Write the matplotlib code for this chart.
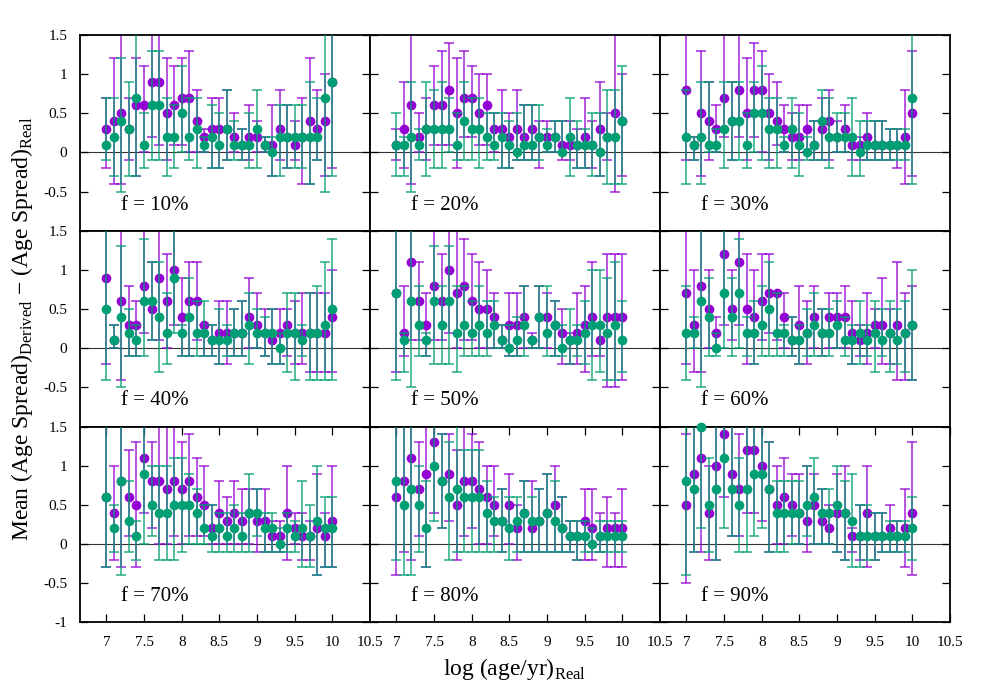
import numpy as np
import matplotlib.pyplot as plt

plt.rcParams['font.family'] = ['Liberation Serif', 'DejaVu Serif']
plt.rcParams['mathtext.fontset'] = 'custom'
plt.rcParams['mathtext.rm'] = 'Liberation Serif'
plt.rcParams['axes.unicode_minus'] = False

# x positions: log(age/yr) of the real populations
log_age = [7.0, 7.1, 7.2, 7.3, 7.4, 7.5, 7.6, 7.7, 7.8, 7.9, 8.0,
           8.1, 8.2, 8.3, 8.4, 8.5, 8.6, 8.7, 8.8, 8.9, 9.0,
           9.1, 9.2, 9.3, 9.4, 9.5, 9.6, 9.7, 9.8, 9.9, 10.0]

fractions = ['10%', '20%', '30%', '40%', '50%', '60%', '70%', '80%', '90%']
x_ticks = [7, 7.5, 8, 8.5, 9, 9.5, 10, 10.5]
x_ticklabels = ['7', '7.5', '8', '8.5', '9', '9.5', '10', '10.5']
y_ticks = [-1, -0.5, 0, 0.5, 1, 1.5]
y_ticklabels = ['-1', '-0.5', '0', '0.5', '1', '1.5']

# ---- f = 10% ----
purple_10 = [.3, .4, .5, .3, .6, .6, .9, .9, .5, .6, .7, .7, .4, .2, .3, .3, .3, .2, .1, .2, .2, .1, .1, .3, .2, .1, .2, .4, .3, .4, .9]
purple_lo_10 = [-.2, -.4, -.4, -.1, -.3, 0, .2, .1, -.1, .1, .1, 0, 0, 0, -.2, -.2, -.1, 0, -.1, -.1, 0, 0, -.3, -.1, -.2, -.1, -.4, -.4, -.1, -.3, -.2]
purple_hi_10 = [.7, 1.2, 1.6, .7, 1.2, 1.1, 1.6, 1.6, 1.2, 1.1, 1.2, 1.3, .8, .3, .7, .7, .8, .5, .3, .6, .4, .2, .6, .8, .6, .4, .7, 1.2, .8, 1.0, 1.6]
green_10 = [.1, .2, .4, .3, .7, .1, .6, .6, .2, .2, .5, .2, .3, .1, .2, .1, .3, .1, .1, .1, .3, .1, 0, .2, .2, .2, .2, .2, .2, .7, .9]
green_lo_10 = [-.1, -.3, -.5, -.3, -.3, -.2, -.1, -.1, -.3, -.2, 0, -.1, -.2, 0, -.2, -.2, -.1, -.1, -.1, -.2, -.2, 0, -.3, -.3, -.2, -.2, -.2, -.4, -.1, -.5, -.3]
green_hi_10 = [.7, .7, 1.2, .9, 1.6, .5, 1.3, 1.3, .7, .6, 1.1, .7, .7, .2, .6, .5, .8, .4, .3, .5, .8, .2, .2, .6, .6, .6, .6, .9, .7, 1.6, 1.6]

# ---- f = 20% ----
purple_20 = [.1, .3, .6, .2, .3, .6, .6, .8, .5, .7, .7, .5, .6, .3, .3, .2, .3, .2, .3, .2, .2, .2, .1, .1, .1, .2, .1, .3, .2, .5, .4]
purple_lo_20 = [-.1, -.2, -.4, 0, -.1, .1, .1, .1, -.2, .2, .2, .1, .1, 0, -.2, -.2, -.1, -.1, -.1, -.2, 0, 0, -.1, -.1, -.2, -.2, -.2, -.3, -.1, -.5, -.3]
purple_hi_20 = [.3, .9, 1.6, .5, .7, 1.1, 1.3, 1.4, 1.2, 1.3, 1.1, 1.0, 1.0, .5, .8, .5, .8, .6, .6, .4, .4, .4, .4, .4, .3, .7, .4, .9, .5, 1.6, 1.0]
green_20 = [.1, .1, .2, .1, .3, .3, .3, .3, .1, .4, .3, .3, .2, .1, .2, .1, 0, .1, .1, .2, .1, .2, 0, .2, .1, .1, .1, 0, .2, .2, .4]
green_lo_20 = [-.3, -.3, -.5, -.1, -.3, -.2, -.2, 0, -.1, -.1, -.1, -.2, -.1, -.1, -.2, -.2, -.1, -.1, -.1, -.1, 0, 0, 0, -.3, -.2, -.2, -.3, -.3, -.4, -.4, -.4]
green_hi_20 = [.5, .2, .9, .3, .9, .8, .9, .7, .5, .9, .7, .7, .5, .5, .5, .4, .5, .6, .6, .6, .3, .4, .4, .7, .4, .3, .5, .5, .8, .8, 1.1]

# ---- f = 30% ----
purple_30 = [.8, .1, .5, .4, .3, .7, .4, .8, .5, .8, .8, .5, .4, .3, .2, .2, .3, .1, .3, .4, .2, .3, .1, .1, .2, .1, .1, .1, .1, .2, .5]
purple_lo_30 = [-.1, -.1, -.3, -.1, 0, .2, -.1, .2, -.1, .2, 0, -.1, .1, 0, -.1, -.1, 0, -.1, -.1, -.1, 0, 0, -.1, -.1, -.1, -.1, -.1, -.1, -.2, -.4, -.3]
purple_hi_30 = [1.6, .2, 1.3, .9, .6, 1.6, .9, 1.6, 1.2, 1.4, 1.3, 1.0, .9, .6, .5, .6, .6, .4, .7, .8, .4, .6, .2, .2, .5, .4, .4, .3, .3, .8, 1.3]
green_30 = [.2, .1, .2, .1, .1, .3, .4, .4, .1, .5, .5, .3, .3, .1, .3, .1, 0, .1, .4, .2, .2, .2, .2, 0, .1, .1, .1, .1, .1, .1, .7]
green_lo_30 = [-.4, -.1, -.4, 0, 0, -.2, -.1, -.1, -.2, 0, -.1, -.2, -.2, 0, -.2, -.3, -.1, -.1, -.1, -.2, 0, 0, -.3, -.3, -.1, -.1, -.1, -.1, -.1, -.1, -.4]
green_hi_30 = [.8, .2, .9, .9, .3, .9, .9, .9, .5, .9, 1.1, .7, .7, .2, .7, .5, .2, .4, .8, .7, .5, .5, .7, .4, .4, .4, .4, .3, .3, .3, 1.6]

# ---- f = 40% ----
purple_40 = [.9, .1, .6, .3, .3, .8, .5, .9, .6, 1.0, .4, .6, .6, .3, .1, .2, .2, .2, .2, .4, .3, .2, .1, .2, .3, .2, .2, .2, .2, .2, .4]
purple_lo_40 = [-.2, 0, -.4, -.1, -.1, .2, .1, .1, 0, .3, -.1, -.1, .1, -.1, -.1, -.2, -.2, -.1, -.1, 0, 0, -.1, -.2, -.2, -.1, -.2, -.2, -.3, -.3, -.3, -.3]
purple_hi_40 = [1.6, .3, 1.6, .8, .6, 1.6, 1.1, 1.6, 1.2, 1.6, .9, 1.1, 1.1, .3, .3, .6, .6, .5, .6, .9, .7, .5, .5, .5, .5, .6, .7, .7, .7, .7, 1.0]
green_40 = [.5, .1, .4, .2, .1, .6, .6, .4, .2, .9, .2, .4, .2, .2, .1, .1, .1, .2, .2, .3, .2, .2, .2, 0, .2, .2, .1, .2, .2, .3, .5]
green_lo_40 = [-.4, 0, -.5, -.1, -.1, -.1, .1, -.3, -.2, .2, -.1, -.1, -.1, -.1, -.1, -.2, -.1, -.1, -.1, -.2, 0, -.1, -.2, -.2, -.3, -.4, -.1, -.4, -.4, -.4, -.4]
green_hi_40 = [1.6, .3, 1.3, .5, .3, 1.4, 1.1, 1.1, .7, 1.6, .3, .9, .6, .6, .3, .5, .3, .5, .6, .7, .5, .4, .5, .2, .7, .7, .3, .7, .8, 1.1, 1.4]

# ---- f = 50% ----
purple_50 = [.7, .2, 1.1, .6, .3, .8, .6, 1.0, .7, .8, .6, .5, .5, .4, .1, .3, .3, .4, .1, .4, .4, .3, .2, .1, .2, .3, .4, .1, .4, .4, .4]
purple_lo_50 = [-.3, -.1, .1, .1, -.1, .1, .1, .2, 0, .1, .1, 0, 0, 0, 0, -.1, -.1, 0, 0, 0, 0, -.1, -.2, -.2, -.2, -.3, -.1, -.1, -.5, -.5, -.4]
purple_hi_50 = [1.6, .8, 1.6, 1.1, .7, 1.6, 1.2, 1.6, 1.6, 1.4, 1.2, 1.1, 1.0, .7, .3, .7, .7, .8, .2, .8, .7, .6, .5, .2, .7, .8, 1.1, .3, 1.2, 1.2, 1.2]
green_50 = [.7, .1, .6, .3, .1, .6, .3, .6, .2, .3, .2, .3, .2, .3, .1, 0, .1, .3, .1, .4, .2, .3, 0, .1, .1, .2, .3, .3, .2, .3, .1]
green_lo_50 = [-.4, -.3, -.5, -.1, -.1, -.2, -.2, -.2, -.3, -.1, -.1, -.1, -.1, 0, 0, -.1, -.1, -.1, 0, 0, -.1, -.1, -.1, -.2, -.1, -.2, -.4, -.3, -.4, -.4, -.3]
green_hi_50 = [1.6, .2, 1.6, .8, .2, 1.3, .8, 1.3, .8, .8, .6, .8, .6, .6, .3, .3, .4, .8, .1, .8, .8, .6, .3, .5, .3, .6, 1.0, 1.0, .9, 1.1, .6]

# ---- f = 60% ----
purple_60 = [.7, .3, .8, .5, .2, 1.2, .5, 1.1, .5, .4, .6, .7, .7, .4, .1, .3, .2, .4, .2, .4, .4, .4, .2, .1, .2, .3, .3, .2, .3, .2, .3]
purple_lo_60 = [-.2, -.3, -.3, 0, 0, .3, .1, .3, -.2, -.2, .1, .2, .1, 0, -.1, -.2, -.2, 0, -.1, 0, 0, 0, -.2, -.1, -.2, 0, -.2, -.2, -.4, -.4, -.4]
purple_hi_60 = [1.6, 1.0, 1.6, 1.0, .4, 1.6, 1.0, 1.6, 1.2, 1.0, 1.2, 1.2, .7, .7, .4, .8, .6, .8, .5, .7, .7, .8, .6, .3, .7, .5, .9, .5, 1.1, .7, .8]
green_60 = [.2, .2, .6, .4, 0, .7, .4, .7, .2, .2, .3, .5, .2, .2, .1, .1, .2, .3, .2, .2, .3, .1, .1, .2, .1, .2, .1, .2, .1, .2, .3]
green_lo_60 = [-.4, 0, -.5, -.1, -.1, 0, -.1, 0, -.1, -.2, -.1, -.1, -.1, -.1, -.1, -.2, -.1, -.1, -.1, -.1, 0, -.1, -.2, -.2, -.1, -.3, -.1, -.3, -.2, -.3, -.4]
green_hi_60 = [.8, .4, 1.6, .9, .2, 1.6, .9, 1.4, .4, .6, .8, 1.1, .7, .3, .4, .3, .5, .7, .5, .5, .6, .4, .3, .6, .3, .6, .5, .6, .5, .6, 1.0]

# ---- f = 70% ----
purple_70 = [.6, .4, .8, .6, .5, 1.1, .8, .8, .7, .8, .7, .8, .6, .5, .2, .4, .3, .4, .3, .4, .3, .3, .1, .1, .4, .2, .1, .1, .2, .1, .3]
purple_lo_70 = [-.3, -.2, -.3, .1, -.3, .4, .2, 0, 0, .1, 0, .1, .1, .1, 0, 0, 0, 0, 0, 0, -.1, -.1, -.1, -.1, -.2, 0, -.2, -.2, -.4, -.3, -.3]
purple_hi_70 = [1.6, 1.0, 1.6, 1.2, 1.3, 1.6, 1.3, 1.6, 1.6, 1.6, 1.3, 1.4, 1.1, 1.0, .5, .8, .6, .8, .7, .7, .7, .7, .3, .3, 1.0, .4, .4, .3, .9, .4, 1.0]
green_70 = [.6, .2, .8, .3, .1, .9, .5, .4, .4, .5, .5, .5, .4, .2, .1, .2, .1, .2, .1, .4, .4, .2, .2, 0, .2, .1, .2, .1, .3, .2, .2]
green_lo_70 = [-.3, -.1, -.4, -.1, -.2, 0, .1, -.2, -.2, -.2, -.1, 0, 0, 0, -.1, -.1, -.1, -.1, -.1, -.1, .1, -.1, -.1, -.1, -.1, -.1, -.3, -.3, -.4, -.3, -.3]
green_hi_70 = [1.6, .5, 1.6, .8, .3, 1.6, 1.0, 1.0, 1.0, 1.1, 1.1, .9, .7, .5, .5, .4, .4, .5, .4, .9, .7, .4, .4, .2, .4, .3, .8, .5, 1.0, .6, .6]

# ---- f = 80% ----
purple_80 = [.6, .8, 1.1, .7, .9, 1.3, .8, .9, .5, .8, .8, .7, .6, .5, .3, .5, .2, .4, .2, .3, .4, .5, .2, .1, .1, .3, .2, .1, .2, .2, .2]
purple_lo_80 = [-.4, -.1, -.2, .1, -.3, .4, .2, .3, -.2, .1, .2, 0, 0, .1, -.1, 0, -.2, -.1, -.1, -.1, -.1, -.1, -.1, -.1, -.2, -.2, -.2, -.1, -.3, -.3, -.3]
purple_hi_80 = [1.6, 1.6, 1.6, 1.3, 1.6, 1.6, 1.4, 1.4, 1.2, 1.6, 1.4, 1.3, 1.0, 1.0, .7, .9, .5, .8, .8, .7, .9, 1.0, .6, .3, .3, .7, .7, .4, .6, .4, .7]
green_80 = [.8, .5, .7, .5, .2, 1.0, .8, .6, .7, .6, .6, .6, .4, .3, .3, .2, .3, .4, .3, .3, .4, .3, .2, .1, .1, .1, 0, .1, .1, .1, .1]
green_lo_80 = [-.2, -.4, -.4, -.1, -.3, .3, .2, -.2, -.1, -.1, -.1, -.1, -.1, -.1, -.1, -.2, -.1, -.1, -.1, -.1, -.1, -.1, -.1, -.1, -.2, -.1, -.1, -.1, -.1, -.1, -.1]
green_hi_80 = [1.6, 1.6, 1.6, 1.0, .8, 1.6, 1.4, 1.3, 1.6, 1.2, 1.2, 1.2, .8, .6, .7, .6, .6, .8, .6, .7, .9, .8, .6, .3, .3, .3, .2, .3, .3, .3, .3]

# ---- f = 90% ----
purple_90 = [.5, .9, 1.1, .4, 1.0, 1.4, .9, .7, 1.2, 1.2, 1.0, .7, .5, .6, .5, .4, .3, .5, .3, .2, .4, .4, .1, .1, .4, .1, .1, .2, .1, .2, .4]
purple_lo_90 = [-.5, -.1, -.1, -.2, -.2, .6, .1, .1, .4, .4, .3, -.1, 0, 0, .1, 0, -.1, 0, 0, 0, -.1, -.2, -.1, -.2, -.3, -.2, -.1, -.1, -.1, -.3, -.4]
purple_hi_90 = [1.4, 1.6, 1.6, 1.0, 1.6, 1.6, 1.6, 1.4, 1.6, 1.6, 1.6, 1.3, 1.0, 1.1, .9, .9, 1.0, .9, .7, .5, .9, 1.0, .2, .5, 1.0, .4, .4, .5, .3, .7, 1.3]
green_90 = [.8, .7, 1.5, .5, .7, 1.1, .7, .5, .7, .9, .9, .7, .4, .4, .4, .4, .5, .6, .4, .4, .5, .4, .3, .1, .1, .1, .1, .1, .1, .1, .2]
green_lo_90 = [-.4, -.1, .2, -.1, -.2, .2, .1, -.1, -.1, .1, .2, -.1, -.1, -.1, 0, 0, .1, 0, 0, 0, -.1, -.2, -.3, -.3, -.2, -.2, -.1, -.1, -.1, -.1, -.2]
green_hi_90 = [1.6, 1.6, 1.6, 1.1, 1.6, 1.6, 1.6, 1.1, 1.6, 1.6, 1.6, 1.3, .8, .8, .8, .8, 1.0, 1.1, .7, .7, 1.0, .8, .9, .5, .5, .4, .4, .3, .3, .3, .6]

panels = [
    (purple_10, purple_lo_10, purple_hi_10, green_10, green_lo_10, green_hi_10),
    (purple_20, purple_lo_20, purple_hi_20, green_20, green_lo_20, green_hi_20),
    (purple_30, purple_lo_30, purple_hi_30, green_30, green_lo_30, green_hi_30),
    (purple_40, purple_lo_40, purple_hi_40, green_40, green_lo_40, green_hi_40),
    (purple_50, purple_lo_50, purple_hi_50, green_50, green_lo_50, green_hi_50),
    (purple_60, purple_lo_60, purple_hi_60, green_60, green_lo_60, green_hi_60),
    (purple_70, purple_lo_70, purple_hi_70, green_70, green_lo_70, green_hi_70),
    (purple_80, purple_lo_80, purple_hi_80, green_80, green_lo_80, green_hi_80),
    (purple_90, purple_lo_90, purple_hi_90, green_90, green_lo_90, green_hi_90),
]

PURPLE = '#9400D3'
GREEN = '#009E73'

fig, axes = plt.subplots(3, 3, figsize=(10, 7), dpi=100)
fig.subplots_adjust(left=0.08, right=0.95, top=0.95, bottom=0.111, wspace=0, hspace=0)

x = np.array(log_age)

for k, ax in enumerate(axes.flat):
    row, col = divmod(k, 3)
    p, plo, phi, g, glo, ghi = [np.array(a) for a in panels[k]]

    ax.axhline(0, color='#333333', lw=0.8, zorder=1)

    z = 2
    for y, lo, hi, c in [(p, plo, phi, PURPLE), (g, glo, ghi, GREEN)]:
        ax.errorbar(x, y, yerr=[y - lo, hi - y], fmt='none', ecolor=c, alpha=0.85,
                    elinewidth=1.1, capsize=3.3, capthick=1.1, zorder=z)
        ax.plot(x, y, 'o', color=c, ms=7, mew=0, clip_on=False, zorder=z + 1)
        z += 2

    ax.set_xlim(6.65, 10.5)
    ax.set_ylim(-1, 1.5)
    ax.set_yticks(y_ticks)
    labels = list(y_ticklabels)
    if row < 2:
        labels[0] = ''
    ax.set_yticklabels(labels)
    ax.set_xticks(x_ticks)
    ax.set_xticklabels(x_ticklabels)

    bottom_row = row == 2
    ax.tick_params(direction='in', length=6, width=0.9, labelsize=11,
                   left=True, right=True, top=bottom_row, bottom=bottom_row,
                   labelleft=(col == 0), labelbottom=bottom_row)
    ax.tick_params(axis='y', pad=9)
    ax.tick_params(axis='x', pad=10)
    for s in ax.spines.values():
        s.set_linewidth(1.3)

    ax.text(7.2, -0.73, 'f = ' + fractions[k], fontsize=15, ha='left', va='baseline')

fig.text(0.022, 0.531,
         r'Mean (Age Spread)$_{\rm Derived}$ − (Age Spread)$_{\rm Real}$',
         rotation=90, ha='center', va='center', fontsize=17)
fig.text(0.515, 0.045, r'log (age/yr)$_{\rm Real}$', ha='center', va='center', fontsize=17)

fig.savefig('out.png', dpi=100)
